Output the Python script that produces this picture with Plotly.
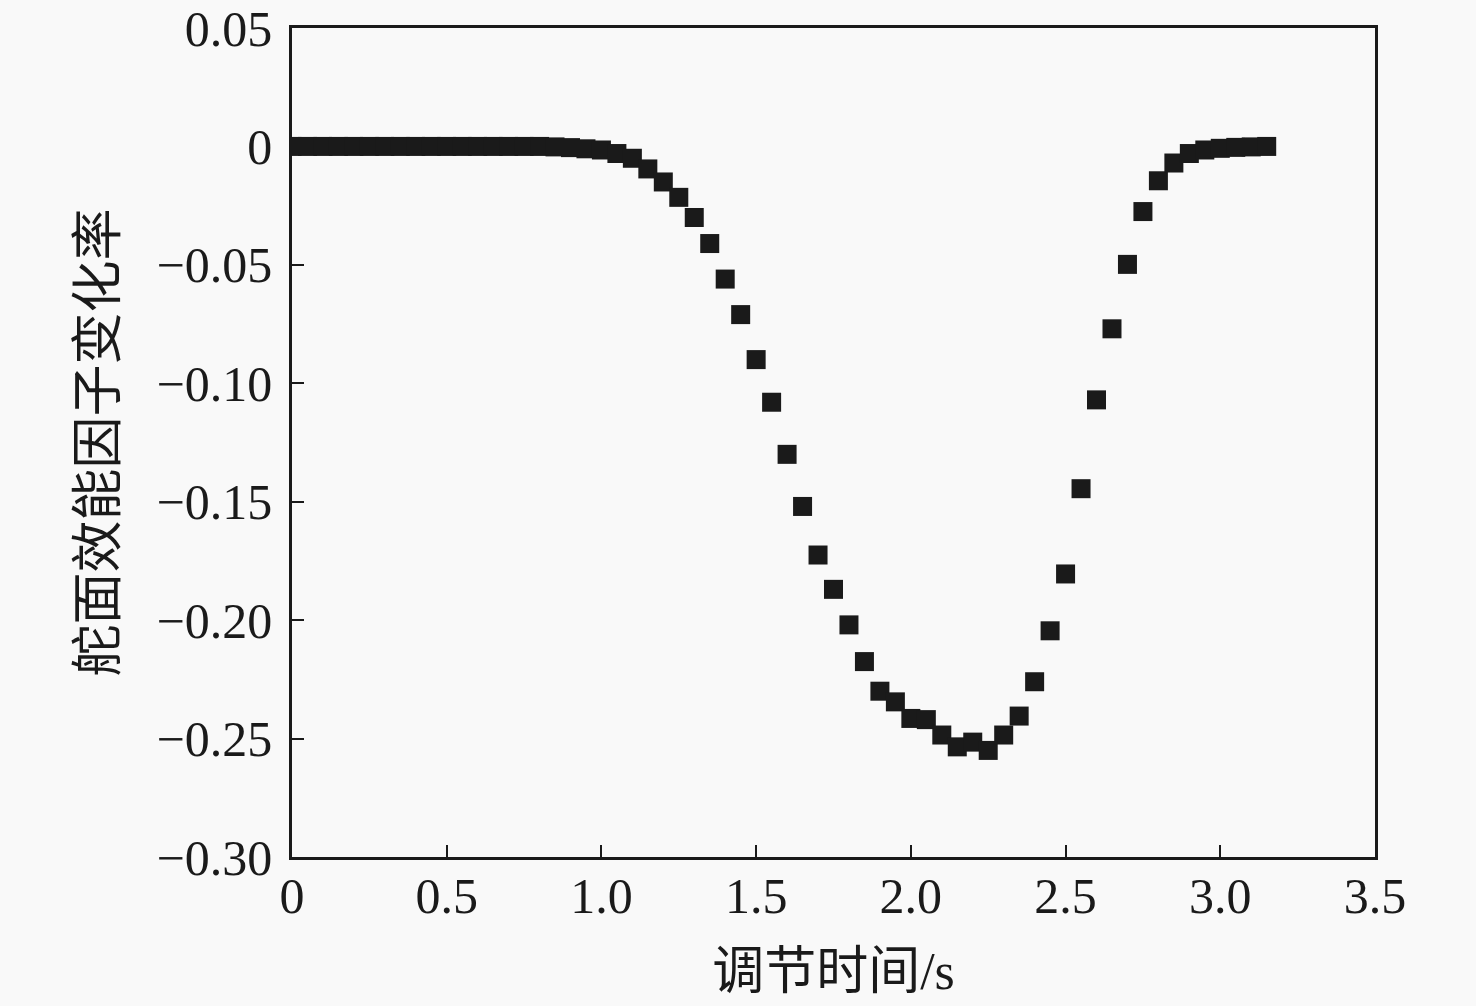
import plotly.graph_objects as go

# regulation time (s) and rudder-effectiveness factor change rate
t_values = [round(0.05 * i, 2) for i in range(64)]
rate_values = [
    0, 0, 0, 0, 0, 0, 0, 0, 0, 0,
    0, 0, 0, 0, 0, 0, 0, -0.0002, -0.0005, -0.001,
    -0.0015, -0.003, -0.005, -0.0095, -0.015, -0.0215, -0.030, -0.041, -0.056, -0.071,
    -0.090, -0.108, -0.130, -0.152, -0.1725, -0.187, -0.202, -0.2175, -0.230, -0.2345,
    -0.2415, -0.242, -0.2485, -0.2535, -0.2515, -0.255, -0.2485, -0.2405, -0.226, -0.2045,
    -0.1805, -0.1445, -0.107, -0.077, -0.0498, -0.0275, -0.0145, -0.007, -0.003, -0.0015,
    -0.0008, -0.0004, -0.0002, 0,
]

x_ticks = [0, 0.5, 1.0, 1.5, 2.0, 2.5, 3.0, 3.5]
x_tick_text = ["0", "0.5", "1.0", "1.5", "2.0", "2.5", "3.0", "3.5"]
y_ticks = [0.05, 0, -0.05, -0.10, -0.15, -0.20, -0.25, -0.30]
y_tick_text = ["0.05", "0", "\u22120.05", "\u22120.10", "\u22120.15", "\u22120.20", "\u22120.25", "\u22120.30"]

font_family = "Liberation Serif, Noto Sans CJK SC"
bg = "#f9f9f9"
ink = "#1a1a1a"

fig = go.Figure()
fig.add_trace(go.Scatter(
    x=t_values,
    y=rate_values,
    mode="markers",
    marker=dict(symbol="square", size=19, color=ink, line=dict(width=0)),
    showlegend=False,
))

axis_common = dict(
    showgrid=False,
    zeroline=False,
    showline=True,
    linecolor=ink,
    linewidth=2.5,
    mirror=True,
    ticks="inside",
    ticklen=12,
    tickwidth=2,
    tickcolor=ink,
    automargin=False,
    tickfont=dict(family=font_family, size=50, color=ink),
)

fig.update_xaxes(
    range=[0, 3.5],
    tickvals=x_ticks,
    ticktext=x_tick_text,
    title=dict(text="调节时间/s", font=dict(family=font_family, size=52, color=ink), standoff=30),
    ticklabelstandoff=-7,
    **axis_common,
)
fig.update_yaxes(
    range=[-0.30, 0.05],
    tickvals=y_ticks,
    ticktext=y_tick_text,
    title=dict(text="舵面效能因子变化率", font=dict(family=font_family, size=52, color=ink), standoff=24),
    ticklabelstandoff=7,
    **axis_common,
)

fig.update_layout(
    width=1476,
    height=1006,
    margin=dict(l=292, r=101, t=28, b=149),
    paper_bgcolor=bg,
    plot_bgcolor=bg,
)

# drop the browser's default body margin so the figure sits at the page corner
fig.write_html(
    "out.html",
    config={"displayModeBar": False},
    post_script="document.body.style.margin='0';document.body.style.background='%s';" % bg,
)
